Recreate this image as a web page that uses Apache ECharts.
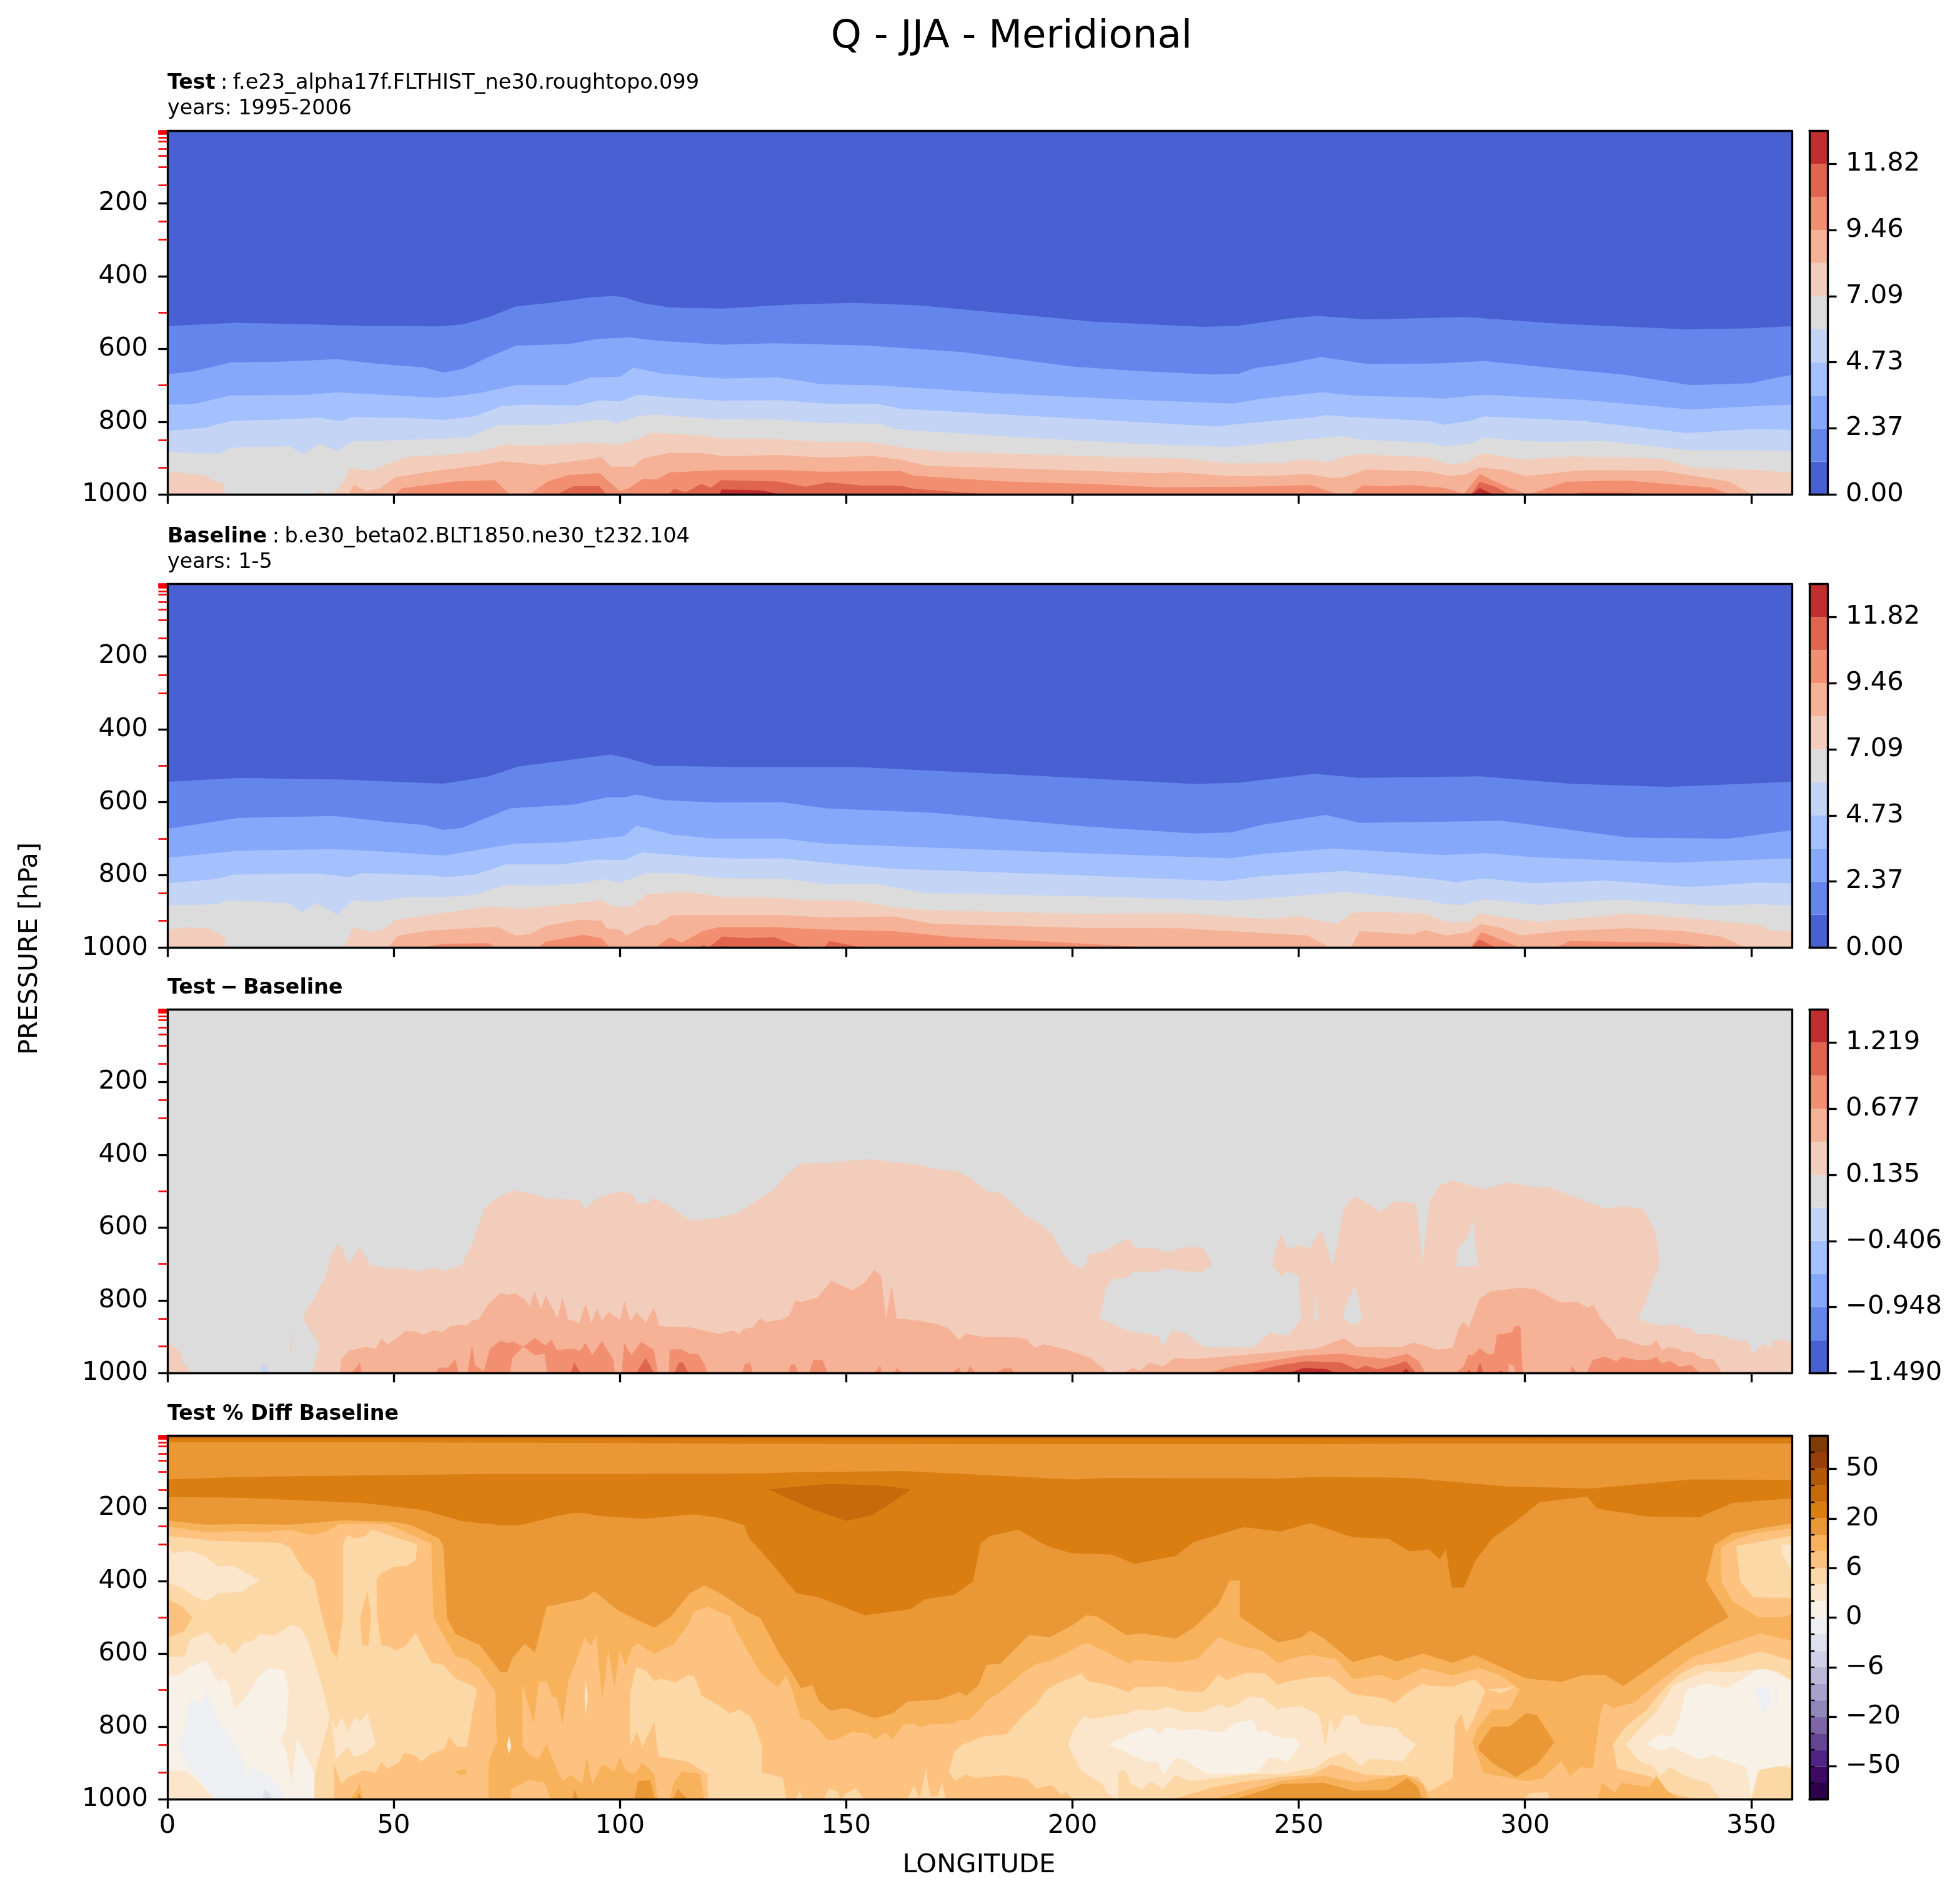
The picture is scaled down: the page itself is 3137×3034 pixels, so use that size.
<!DOCTYPE html>
<html><head><meta charset="utf-8">
<script src="https://cdn.jsdelivr.net/npm/echarts@6/dist/echarts.min.js"></script>
<style>html,body{margin:0;background:#fff}#c{width:3137px;height:3034px}</style></head>
<body><div id="c"></div>
<script>
// ---------- tick labels / levels ----------
const lonTicks=[0,50,100,150,200,250,300,350];
const presTicks=[200,400,600,800,1000];
const modelLevels=[1,2,3,5,7,10,20,30,50,70,100,150,200,250,300,400,500,600,700,850,925,1000];
const qLevels=[0,1.18,2.37,3.55,4.73,5.91,7.09,8.28,9.46,10.64,11.82,13.0];
const diffLevels=[-1.49,-1.219,-0.948,-0.677,-0.406,-0.135,0.135,0.406,0.677,0.948,1.219,1.49];
const pctLabels={2:'−50',5:'−20',8:'−6',11:'0',14:'6',17:'20',20:'50'};
const coolwarm=['#4860D1','#6485EB','#85A8FA','#A5C1FD','#C3D4F4','#DCDCDC','#F2CDBB','#F6B296','#F28F71','#E0654F','#C02E2F'];
const puor=['#2D004B','#3E0B62','#4F2384','#654594','#7C66A8','#9088BA','#A9A1CB','#BDB9DA','#D0D1E6','#DFE0EC','#EEEFF3','#F7F1E7','#FCE6CB','#FDD8A7','#FDC27F','#F7B25B','#EA9736','#DA7E12','#C86A0C','#B35806','#983F09','#7F3B08'];

// ---------- Test: contour boundaries [longitude, pressure] ----------
const t1=[[0,537],[15,528],[30,532],[45,537],[60,538],[65.5,532],[71,512],[77,483],[84,474],[93.6,458],[98.5,454],[101,458],[105,474],[111,486],[122.4,489],[137,478],[151.5,473],[166,480],[185,502],[204.7,525],[229,539],[236.6,536],[248,516],[254,509],[265,519],[287,512],[308,531],[335.7,546],[350,543],[359,537]];
const t2=[[0,669],[5.5,662],[14,637],[25,635],[37.5,628],[46,640],[57,651],[61,665],[65.5,654],[71,622],[77,591],[89,586],[94.6,573],[102,568],[108,577],[122.4,588],[134,584],[154,590],[175.6,608],[200,648],[214,660],[231,670],[236.6,668],[240.5,652],[248,639],[255,622],[265,641],[280,640],[291,633],[303,648],[322,671],[336.6,699],[350,694],[354,683],[359,671]];
const t3=[[0,753],[5.5,752],[14,728],[31,726],[37.5,719],[50,727],[60,735],[69,721],[77,699],[88,699],[93.6,678],[100,676],[103,651],[109,667],[122.4,681],[135,678],[144.7,697],[156,699],[185,723],[214,740],[235.7,750],[241.5,737],[255,719],[263,729],[274.5,732],[282,736],[291,726],[313,740],[336.6,766],[351,757],[359,753]];
const t4=[[0,825],[8.4,816],[14,798],[26,793],[33.6,789],[38.4,798],[41,787],[55,790],[60.7,795],[67.5,786],[74,757],[79,753],[90.7,755],[95.5,741],[100,744],[104,726],[108,730],[122.4,742],[136,741],[144.7,750],[157,751],[162,764],[185,780],[214,800],[231.8,813],[236.6,806],[253,788],[256.4,781],[262,787],[279,798],[282,808],[288,797],[291,785],[313,798],[335.7,831],[350,820],[359,822]];
const t5=[[0,883],[11.3,888],[14,871],[27,867],[30,890],[33.6,860],[37.5,880],[41,854],[55,849],[66.5,843],[73,809],[85,808],[96.5,793],[99.4,804],[104,784],[108,780],[122.4,794],[134,793],[143.7,803],[157,805],[161,820],[185,840],[214,860],[234.7,869],[251,849],[260,839],[263,848],[279,858],[282,868],[288,860],[291,844],[303,855],[317.5,853],[336.6,878],[351,878],[359,881]];
const t6=[[0,937],[8.4,946],[10,962],[12.3,969],[12.8,1000],[32.6,1000],[33.6,987],[35,1000],[36.5,1000],[39,964],[40.4,928],[45,934],[50,910],[53,896],[61.7,890],[69.4,881],[74,863],[82,865],[91.7,858],[98.5,860],[100,863],[105,842],[107,830],[118,838],[122.4,847],[132,846],[144.7,855],[155,855],[163,872],[171,881],[204.7,895],[225,901],[234.7,914],[246,913],[251,902],[256.4,911],[260,895],[264,889],[279,898],[283,917],[287,912],[290.3,886],[299.4,904],[311,895],[330,901],[337.6,927],[350,931],[359,940]];
const t7=[[39.9,1000],[41.3,973],[44,991],[47,982],[50.5,952],[59.7,934],[69.4,919],[74,908],[83,919],[92.6,904],[96,897],[98,923],[103,923],[105,901],[111,885],[118,886],[123.4,895],[135,891],[144.7,898],[156,894],[162,904],[168,921],[185,927],[204.7,935],[219,941],[223,938],[234.7,949],[246,948],[251.6,943],[257.8,955],[260,952],[265,931],[279,937],[283,949],[287,944],[290,925],[295.6,932],[300,949],[312.7,933],[330,934],[345,964],[350,998],[351,1000]];
const t8=[[50,1000],[52,982],[63.6,964],[72.3,960],[75.7,1000],[80,1000],[84,964],[88.8,946],[95.5,941],[100,991],[102,982],[105,957],[108,959],[111,939],[122.4,932],[136,932],[144.7,937],[162,935],[165,948],[185,964],[204.7,971],[219,980],[238.6,978],[252.6,974],[258.3,998],[261.6,998],[264,975],[270,977],[274.5,974],[282,981],[286.5,998],[290,944],[296.5,981],[300.3,998],[302,995],[309,965],[322.3,961],[341.4,981],[345,998],[346,1000]];
const t9a=[[86,1000],[89.7,977],[95.5,977],[97,1000]];
const t9b=[[110.6,1000],[112,984],[114.6,993],[118,970],[120,981],[122.4,960],[135,964],[141,978],[146,966],[154,975],[162,975],[165,984],[180.5,998],[182,1000]];
const t9c=[[288,1000],[290,965],[293.6,979],[296.6,1000]];
const t9d=[[308.5,1000],[312.7,995],[322,995],[332,1000]];
const t10a=[[122,1000],[122.4,986],[131,988],[136,1000]];
const t10b=[[288.3,1000],[290,981],[293,1000]];

// ---------- Baseline ----------
const b1=[[0,544],[15.7,533],[39,538],[61,549],[71,529],[77.6,502],[87,487],[98,469],[102,480],[107.6,500],[126,503],[152,503],[185,523],[227,550],[237,546],[253.5,522],[263.5,533],[290,529],[310,549],[331.6,558],[359,544]];
const b2=[[0,673],[15.7,643],[37,638],[48.6,654],[57,663],[61,676],[65,671],[75.7,617],[90,606],[97,587],[101,587],[103.6,579],[109.6,594],[121,601],[136,600],[145.5,617],[169,629],[202,666],[227,686],[235,683],[242,662],[256,635],[263.5,657],[295,651],[323,697],[345,700],[359,677]];
const b3=[[0,753],[15.7,733],[37,729],[48.6,736],[61,747],[76.7,714],[87,711],[101,693],[103.6,664],[111.5,689],[121,700],[136,700],[145.5,714],[202,740],[235,754],[242,742],[257.6,727],[282,745],[291.7,740],[301.7,751],[333,766],[359,754]];
const b4=[[0,823],[11,811],[14.7,799],[33,796],[40,806],[43,795],[58,801],[61.6,806],[68,799],[74.7,771],[87,771],[95,757],[101,759],[105,738],[116,749],[126,755],[136,754],[145.5,766],[160.5,783],[193.7,797],[233.6,817],[242,803],[260,789],[278.4,809],[285,820],[291,809],[301.7,823],[318,815],[336.5,833],[351.5,821],[359,823]];
const b5=[[0,884],[11,880],[13,870],[21.5,873],[24,878],[26.5,875],[29.7,903],[33,877],[35,891],[37.5,909],[41,869],[46,873],[53.4,861],[61,861],[68,854],[74.7,827],[82.5,830],[92,823],[96,811],[100,822],[105.7,795],[114.4,796],[122,809],[136,810],[145.5,825],[157,825],[167,849],[208.6,860],[235,871],[250,857],[260,846],[278.4,869],[282,880],[286,882],[291,866],[303,882],[320,867],[341.5,885],[351.5,880],[359,884]];
const b6=[[0,950],[5,943],[9,947],[12.6,969],[13,1000],[39,1000],[41,943],[44.7,956],[47.5,950],[50.5,923],[58,909],[71,887],[78.6,893],[96,869],[98.5,887],[103,886],[105.7,853],[114.4,846],[123,861],[131,861],[142,869],[152,871],[160.5,889],[169,897],[202,906],[223.6,905],[243.5,921],[250,913],[258.5,934],[262,903],[266.8,900],[278,907],[282.6,929],[287.5,929],[290,906],[303,929],[323,906],[335,917],[351.5,936],[355,954],[359,954]];
const b7=[[48.6,1000],[51,966],[58,953],[68,945],[72.8,942],[77,967],[80.5,960],[83.5,940],[91,923],[96,926],[97,946],[100,950],[101.4,966],[105.7,939],[108,937],[111.5,911],[121,910],[136,910],[145.5,917],[160.5,914],[169,934],[202,945],[223.6,946],[252,966],[257,1000],[261.5,1000],[263.5,954],[275,963],[278,951],[282.6,966],[287.5,957],[290.4,935],[295,946],[299,966],[308,954],[323,946],[335,954],[343.5,969],[349,1000]];
const b8a=[[55.9,1000],[61,989],[71,987],[72.8,1000],[82,1000],[83.5,983],[92,964],[96,974],[97.8,1000],[107.8,1000],[111,971],[113.6,986],[118.3,954],[122,943],[134,943],[145.5,950],[160.5,954],[174,971],[198.7,986],[218.6,1000]];
const b8b=[[288,1000],[290.4,956],[299,1000]];
const b8c=[[306.6,1000],[310,981],[333,986],[341.5,1000]];
const b9a=[[117.8,1000],[118.5,991],[119.5,1000],[122.6,969],[128,973],[134,971],[138.6,991],[140.5,1000]];
const b9b=[[145,1000],[146.3,981],[153.8,1000]];
const b9c=[[288,1000],[290,977],[293.7,1000]];
const b10=[[122,1000],[123,996],[125,1000]];

// ---------- Test - Baseline ----------
const d1a=[[0,921],[1,921],[2.6,941],[3.6,972],[5.5,1000]];
const d1b=[[32,1000],[33.6,921],[30,851],[31,818],[32.6,792],[35,732],[36,680],[37.5,647],[38.6,654],[40,703],[42.5,652],[45,704],[48.6,711],[53.4,713],[55.6,720],[58.8,709],[61,719],[65,703],[67.5,640],[70,548],[72.3,522],[76.2,498],[81,508],[84,521],[91,524],[92.4,548],[94,528],[96,514],[100,500],[102.6,508],[103.8,531],[106,535],[107.5,518],[110.6,537],[115.4,580],[122,573],[126,559],[133.6,500],[136.8,454],[140,425],[146,421],[155,412],[165.8,427],[169.8,439],[174.4,444],[177.7,465],[181,500],[184.3,505],[189,560],[193,591],[195.5,617],[198,674],[200,700],[202.5,713],[203.8,673],[206.7,666],[212.3,629],[214,656],[218.6,657],[221,668],[224,655],[227,652],[229,657],[231,700],[228.6,723],[225,720],[220.6,711],[218.6,722],[213.3,720],[212,738],[208.7,743],[207.4,766],[206,849],[209.4,866],[211.7,881],[214.6,889],[217,892],[219,898],[220,929],[222,881],[225,891],[229,927],[239.7,930],[243.7,889],[247.6,897],[250.5,852],[250,732],[247.6,720],[246.2,736],[244,700],[246,617],[247.6,660],[250,646],[252.2,660],[255,605],[257.5,706],[260,546],[262.5,514],[265.4,534],[268,557],[271.4,528],[276,534],[277.3,700],[279,525],[281.3,483],[284,471],[291,494],[296.3,475],[302.4,489],[305.7,490],[313.6,528],[318,548],[321.5,541],[326,547],[329,617],[329.8,702],[328,756],[326.6,807],[325,850],[328,863],[330.3,870],[332.7,864],[335.3,875],[336.7,875],[338,892],[342.4,893],[346.4,909],[349,910],[349.6,921],[350.4,949],[352.8,917],[354,928],[355.3,910],[356.5,907],[358.3,913],[359,921]];
const d1c=[[27.2,941],[27.3,852],[27.5,941]];
const dHole1=[[284.8,705],[285.2,656],[287.2,630],[288.5,579],[289.6,702],[287.2,708]];
const dHole2=[[259.9,851],[260.2,822],[261.5,785],[262.4,756],[264.1,851],[262.5,868]];
const dHole3=[[253.3,854],[253.8,774],[254.2,857]];
const dBlue=[[20.8,1000],[21,975],[22,985],[22.6,1000]];
const d2=[[38,1000],[38.4,964],[40,938],[43.8,928],[46,933],[47.3,904],[48.6,921],[51,901],[52.5,884],[55,886],[56.3,895],[58.8,882],[60.7,887],[62.6,870],[65,866],[66,870],[67.5,853],[68.7,853],[71,809],[73.6,780],[75.3,784],[77,781],[79,798],[80,815],[81.1,775],[82.5,823],[83.6,786],[86.2,848],[87.3,792],[88.6,852],[91,862],[92.4,809],[93.7,861],[94.9,821],[96,855],[97.5,832],[100,853],[101,803],[102.3,857],[103.6,832],[105.7,861],[107.5,819],[108.7,869],[110.6,872],[115.4,874],[122,892],[125,882],[126.3,893],[127.2,878],[129.4,874],[131,849],[132.3,859],[135.7,853],[137.5,841],[138.7,800],[140.2,804],[143.7,792],[146.7,746],[151.3,772],[154,752],[156.2,716],[157.7,732],[158.8,849],[160,758],[161.2,849],[165.8,855],[170,865],[172.4,875],[175,909],[176.4,891],[180.3,900],[187.6,901],[190,907],[191.6,930],[193.8,920],[198.8,935],[204,958],[208,1000],[211,1000],[213.3,985],[215,993],[217,971],[220,981],[222.6,958],[226.5,962],[235.7,952],[254,932],[257.5,915],[260,904],[262.8,927],[272.7,928],[275.3,916],[279.3,930],[280.6,935],[284,930],[285.2,881],[286.4,858],[287.6,874],[290,795],[292.5,775],[299,765],[302.4,769],[307,801],[308.2,806],[311.5,804],[314,820],[315.2,812],[316.7,850],[319,879],[320.3,905],[321.5,904],[325.8,924],[327.7,924],[329,908],[330.3,937],[331.6,928],[334,933],[335.3,943],[336.7,940],[339.5,961],[341.7,962],[343.6,1000]];
const d3s=[
 [[40.7,1000],[42.5,971],[43,1000]],
 [[59.2,1000],[60,984],[62,985],[63.6,961],[64.4,1000]],
 [[66.3,1000],[67.3,923],[68,978],[69.9,995],[71.3,932],[73.5,911],[75.7,917],[76.2,912],[78.6,927],[81.2,903],[83.6,924],[84.9,907],[86,937],[89.7,932],[91.2,939],[92.4,916],[93.9,950],[96,912],[98.5,961],[98.9,1000]],
 [[100.4,1000],[100.9,916],[102.5,950],[104.7,914],[107.5,935],[108.4,1000]],
 [[110.8,1000],[111,935],[113.5,934],[115.4,947],[117.3,947],[118.8,978],[119.3,1000]],
 [[127,1000],[127.5,977],[128.7,970],[129.4,1000]],
 [[137.2,1000],[137.7,977],[138.6,975],[139.4,1000]],
 [[141.8,1000],[142.7,964],[144.7,963],[146,1000]],
 [[156.2,1000],[157.5,978],[157.9,1000]],
 [[160.6,1000],[161.2,986],[162.5,1000]],
 [[173.1,1000],[174.8,985],[175.7,1000]],
 [[176.6,1000],[177.4,980],[178.6,1000]],
 [[182.7,1000],[185,986],[186.5,986],[187.2,1000]],
 [[229.8,1000],[235.7,980],[241,971],[251.6,951],[259.5,946],[264.1,954],[269.4,960],[274,947],[276.6,968],[278,1000]],
 [[284.6,1000],[286.5,980],[287.5,948],[288.5,951],[290,931],[291.8,948],[293.1,948],[293.8,894],[297.1,888],[297.8,870],[299,871],[299.5,1000]],
 [[310,1000],[310.4,980],[311.5,1000]],
 [[313.6,1000],[315,964],[317.6,954],[320.3,968],[321.5,955],[325,965],[328,962],[329,955],[330.3,973],[332,966],[334.2,982],[336.7,977],[338.5,998],[339,1000]]
];
const d3pockets=[[[75.7,1000],[76.2,958],[78.6,927],[81.2,950],[83.4,947],[83.9,1000]],[[296.4,1000],[296.4,974],[297.5,980],[298,1000]]];
const d4s=[
 [[89,1000],[89.9,971],[91.4,1000]],
 [[103.6,1000],[105.7,957],[107.6,1000]],
 [[112,1000],[113,971],[113.9,971],[115.2,1000]],
 [[238.4,1000],[245,980],[251.6,967],[259.5,971],[262.8,989],[264.8,979],[267.4,989],[271.4,977],[273.7,967],[276,1000]],
 [[287.2,1000],[287.6,989],[288.3,1000]],
 [[289.2,1000],[290.1,971],[290.8,1000]],
 [[293.5,1000],[294.9,991],[295.1,1000]]
];
const d5s=[[[247.6,1000],[251.3,985],[256.2,989],[258.2,1000]],[[272.7,1000],[273.7,987],[274.7,1000]]];

// ---------- Test % Diff Baseline ----------
const pDaTop=[[0,121],[17,114],[43.4,110],[70,106],[100.5,106],[128.6,105],[140.5,101],[162.7,98],[184,111],[200,121],[207.8,117],[246,118],[255.4,114],[274.5,117],[295.6,140],[314.7,146],[336.6,121],[359,122]];
const pDaBot=[[0,169],[17,172],[43.4,186],[56.5,205],[65.3,236],[75,248],[78.5,245],[87.3,218],[91,212],[96,222],[105,229],[116.4,217],[122.5,228],[127.4,246],[128.6,283],[132.6,338],[139,433],[144.5,447],[154,494],[164.3,477],[167.4,450],[173.8,438],[178,402],[179.7,297],[181.7,276],[188,259],[194.3,303],[199.9,324],[208.6,327],[213.7,353],[222.8,331],[226.8,293],[237.9,252],[246,264],[252.6,241],[262,280],[269.8,284],[274.5,319],[278.8,313],[281.2,341],[282.5,313],[283.8,418],[286.5,418],[288.9,347],[292.7,284],[297.5,241],[303.2,184],[313.7,168],[316,201],[327,223],[338.5,225],[346,185],[359,173]];
const pStripTop=[[0,1],[359,1],[359,22],[280,22],[250,24],[200,24],[128,23],[100,21],[50,19],[0,19]];
const pStripTop2=[[0,1],[359,1],[359,9],[0,8]];
const pStripTop3=[[0,1],[359,1],[359,3],[0,3]];
const pIslandC8=[[132.7,148],[146,133],[157.9,138],[164.3,148],[159.5,190],[155.5,220],[150,235],[142,200]];
const pL1=[[0,234],[8.2,245],[17,244],[27.2,245],[39,233],[50.4,238],[54,247],[60,283],[61,304],[61.8,501],[63.6,545],[69,576],[73.7,651],[75,651],[76.3,610],[79,572],[81.2,596],[83.8,470],[91.7,450],[94.4,428],[99.6,481],[104,508],[107.6,528],[111,501],[115.5,433],[118.6,412],[122.5,436],[128.6,487],[131,501],[135.4,603],[138,651],[140,695],[142.5,686],[144,729],[146.4,756],[150,749],[156.3,777],[160.3,763],[163.5,731],[170.6,726],[175,705],[176.5,715],[179.3,685],[181,630],[184,627],[190.4,548],[195,554],[200,521],[203,494],[205.4,497],[211.8,548],[215.7,544],[222.8,558],[226.8,528],[232.3,463],[234.7,399],[237,399],[237,498],[241,532],[245.4,569],[250.6,555],[252.6,536],[255.4,556],[262,623],[267.9,603],[271.7,621],[277.4,599],[284,625],[288.9,603],[300.3,668],[308,677],[312.7,659],[317.5,657],[321.8,689],[327,643],[333.8,584],[340.4,532],[345,499],[340,398],[341.9,300],[346,268],[359,241]];
const pL2=[[0,250],[8.2,265],[17,263],[20.5,267],[26.6,259],[32,274],[35.4,263],[38,243],[48.6,244],[54,273],[58.3,297],[58.8,501],[61,549],[63.6,607],[66.2,613],[69,641],[70.2,664],[72.4,702],[72.8,841],[71,896],[71,1000],[78.5,1000],[78.5,848],[78.4,681],[81,794],[82,678],[83.8,675],[85.1,719],[86,719],[87.3,794],[88.7,668],[90.4,617],[92.2,555],[93.5,579],[94.8,547],[96.1,729],[97.4,590],[98.8,692],[100,590],[101.2,634],[102.7,583],[104,572],[107.6,600],[112,572],[115,521],[116.4,484],[119.4,470],[124.3,498],[126,542],[128.6,600],[131.4,658],[135,692],[136.7,658],[138,698],[140,779],[142,783],[143.7,804],[145.6,835],[147.5,837],[151.2,815],[154.8,819],[156.3,835],[158.7,815],[160,835],[162.7,794],[165,792],[166.6,803],[168.2,794],[173.8,791],[175.3,780],[177,783],[179,760],[181,729],[184,705],[188.8,654],[192,627],[195,620],[203,569],[207.8,596],[212.5,627],[213.7,617],[222.8,624],[227.6,614],[232.3,554],[236.7,577],[241.8,590],[245.4,626],[248.2,614],[252.6,602],[258.3,615],[262,670],[267.9,657],[271.7,674],[277.4,639],[284,659],[289.8,639],[294.6,659],[298.9,698],[296.5,753],[292.7,753],[289.4,808],[288.4,840],[290.8,927],[300.3,950],[304,942],[308,895],[310,935],[312.3,911],[315,915],[316.6,769],[317.5,733],[319.4,749],[324.2,733],[329.9,674],[336.6,611],[344.3,576],[352,544],[359,564]];
const pFdcCorner=[[359,255],[351,268],[347,284],[343.4,307],[343.4,402],[345.8,454],[351.4,499],[357,499],[359,490]];
const pF7bPatches=[
 [[78.5,1000],[78.5,855],[79.9,875],[82,889],[83.8,848],[86.5,930],[87.3,950],[89.1,933],[91.7,957],[92.6,882],[93.9,957],[96.1,903],[98.8,923],[100,882],[101.2,920],[103.2,930],[104.9,899],[107.6,930],[108.4,1000]],
 [[110.9,1000],[112,950],[113.7,923],[117.7,930],[118.6,1000]],
 [[40.3,1000],[41.6,978],[42.5,957],[43.2,1000]],
 [[63.6,923],[65.8,916],[66.2,930],[64.5,933]],
 [[230.8,1000],[239.5,971],[246,949],[255.4,935],[263,954],[273.6,931],[277.4,958],[278.8,1000]],
 [[316,1000],[317,954],[319.9,982],[321.3,954],[327.5,966],[329,935],[331.3,974],[334,1000]]
];
const pFdcPatches=[
 [[75.7,1000],[76,971],[79.9,947],[83.4,954],[84.7,1000]],
 [[0,450],[3.3,470],[5.5,499],[3.8,538],[0,555]],
 [[42.6,499],[44.2,425],[45,499],[44.4,579],[43,576]]
];
const pEaPatches=[
 [[103.2,1000],[104,950],[106.7,947],[107.7,1000]],
 [[111.8,1000],[112.8,971],[115,1000]],
 [[89.5,1000],[90,974],[90.9,1000]],
 [[41.8,1000],[42.3,981],[42.9,1000]],
 [[235.5,1000],[241.8,977],[246,958],[255.4,954],[262,976],[269.8,974],[274,942],[276.4,966],[277.2,1000]],
 [[289.8,852],[292.7,800],[296.5,800],[300.3,763],[302.7,769],[306.5,844],[302.7,903],[298,938],[293.2,903],[289.8,864]]
];
const pL3a=[[0,276],[10.8,290],[24.9,295],[27,307],[30.2,372],[32.4,396],[34.1,494],[36.3,593],[37.4,613],[38.8,501],[38.8,297],[39.8,273],[41.2,283],[43.8,276],[45,258],[50.4,280],[55.2,299],[54.8,343],[53,358],[50,361],[47.3,378],[46.2,395],[46.3,494],[47.3,579],[48.6,579],[50.4,590],[52.6,579],[54.8,542],[58.3,624],[61,630],[63.6,668],[67.5,688],[68.4,698],[67.5,753],[66.2,855],[64,855],[62.3,828],[61,862],[58.3,875],[56,896],[54.8,879],[52.2,872],[51.3,896],[48.6,916],[47.3,896],[46,926],[43.4,920],[39.8,940],[38.5,957],[36.8,903],[36.8,1000]];
const pL3b=[[102.2,709],[103.6,637],[105.8,647],[107.6,675],[108.9,668],[112.4,678],[115,659],[116.4,661],[118.1,715],[122,743],[124.3,763],[126.5,754],[128.6,770],[129.8,794],[131.4,855],[131.4,926],[136,940],[136.8,1000],[119.4,1000],[119.4,930],[115,896],[108.5,882],[107.6,787],[105,855],[103.7,814],[102.3,855]];
const pL3c=[[172.7,923],[173.9,869],[175.7,850],[180,828],[185.6,820],[188.8,773],[192,739],[194,702],[196.7,681],[202,654],[203.4,675],[207.8,685],[212.5,706],[213.7,692],[220.9,690],[223.6,702],[228.8,705],[232.3,658],[234,672],[238.7,651],[242.6,654],[245.4,685],[247.8,675],[252.6,665],[256.9,662],[261.7,710],[268.8,722],[271.2,736],[274.5,702],[277.4,682],[278.8,688],[284,690],[288.9,670],[291.3,702],[288.4,785],[287,816],[286,765],[284.6,789],[284,942],[278.8,978],[276.4,938],[273.6,935],[265,933],[257.4,903],[252.6,933],[246,938],[239.5,948],[231.5,965],[222,1000],[200,1000],[198.6,979],[197.5,988],[195.5,960],[192,970],[190,943],[184.8,933],[178.5,941],[176.5,930],[174,950]];
const pL3d=[[319.4,848],[322.3,800],[327,753],[329.9,706],[333.8,659],[338,631],[344.3,623],[352,593],[359,619],[359,1000],[337.6,1000],[329.9,974],[328,938],[320.4,915]];
const pFddIslands=[
 [[346.7,304],[359,276],[359,446],[350.5,445],[347.6,402]],
 [[291.7,698],[294.7,695],[298,690],[294.7,708]],
 [[300,1000],[301,982],[305,980],[305.5,1000]],
 [[139,1000],[139.8,971],[140.3,1000]],
 [[145,1000],[146.2,969],[148.1,979],[148.9,1000]],
 [[148.9,1000],[150,983],[152.2,969],[154,1000]],
 [[163.5,1000],[165,960],[166.2,1000]],
 [[166.2,1000],[167.6,917],[168.6,991],[170.2,991],[171.2,953],[172,1000]]
];
const pFceLeft=[[0,610],[3.8,607],[5.1,559],[9,540],[11.3,579],[12.6,569],[14.8,603],[17,566],[18.7,566],[20.5,545],[23.6,550],[27.5,520],[29.3,528],[31,562],[34.1,685],[35.9,773],[32.6,926],[32.4,1000]];
const pFceTop=[[0,404],[0,297],[1.1,324],[5.1,317],[8.6,334],[11.3,361],[14.3,358],[17,375],[20.5,399],[18.3,413],[16.5,430],[11.3,433],[8.6,455],[5.5,440],[2.9,416]];
const pFceIslands=[
 [[36.3,780],[37.2,807],[38.5,773],[39.8,814],[41.4,773],[42.5,787],[44.2,763],[46,848],[43.4,875],[41.2,882],[39.8,855],[37.2,889]],
 [[92.2,719],[92.4,675],[92.9,716],[92.4,770]],
 [[75,853],[75.5,825],[76,855],[75.5,875]],
 [[356.5,300],[359,300],[359,375],[357,327]]
];
const pFdd2=[[21.2,855],[22.4,845],[23.6,855],[22.3,860]];
const pFceCentral=[[199,848],[200.3,807],[202.5,770],[203.8,780],[212.5,763],[214,752],[218,757],[220.9,746],[225,760],[228.4,760],[232.3,739],[234.7,750],[239.5,717],[242.2,722],[245.4,756],[246,749],[250.2,744],[253,757],[254.5,769],[255.9,856],[257,775],[258,815],[260.2,769],[262.6,769],[264,793],[271.7,804],[273,824],[276,848],[273,895],[268.8,891],[266,887],[263.6,907],[260.2,871],[256.4,887],[254,911],[250.7,919],[246,931],[239.5,930],[226,950],[222.8,933],[220,971],[217.3,950],[215.3,974],[213,957],[211.8,920],[210.2,923],[210,1000],[207.8,984],[206.6,957],[202,920],[200.3,882]];
const pFceRight=[[322.3,848],[325.2,808],[329,761],[332.8,686],[340,647],[345.2,651],[351.4,643],[355.7,647],[359,674],[359,915],[355.7,907],[351.9,919],[350,1000],[343.3,1000],[340.4,954],[336.6,942],[331.9,911],[330,935],[328,906],[325.2,895]];
const pF7fLeft=[[0,661],[2.9,658],[4.7,637],[8.6,620],[9.5,637],[11.3,681],[12.4,664],[13.6,688],[14.8,749],[16.5,732],[18.7,692],[20.5,658],[22.7,639],[25.8,647],[26.8,698],[26.2,801],[24.9,841],[26.2,862],[27.5,957],[28.6,831],[32.4,926],[32.4,1000],[10.4,1000],[6.9,950],[4.7,926],[2,920],[0,923]];
const pF7fCentral=[[208,850],[212.5,821],[217.3,801],[219,821],[220.9,800],[224,811],[226.8,806],[233,817],[235.9,790],[239.9,780],[241,814],[242.6,811],[244.6,824],[247.4,835],[249,828],[250.2,850],[247.4,899],[245,885],[243.4,885],[241,923],[237.9,930],[230,930],[226.8,909],[224.8,892],[222.8,885],[220,933],[218.9,896],[216.1,896],[211.8,869]];
const pF7fRight=[[326.9,848],[330,820],[332.3,828],[334.2,777],[335.7,698],[340,682],[344.8,694],[351.4,643],[353.8,643],[357.6,666],[359,674],[359,903],[351.4,919],[350,994],[349,911],[341.4,879],[338.5,891],[332.8,856],[330,867]];
const pEeeLeft=[[2,845],[3.8,804],[5.1,719],[7.3,739],[8.6,698],[11.3,790],[13.9,828],[16.5,882],[17.7,937],[18.7,906],[22.7,940],[25.3,971],[25.8,1000],[10.8,1000],[6.4,937],[3.8,896]];
const pEeeRight=[[351,690],[353.9,690],[354.4,730],[353,770],[351.5,730]];
const pEeeRight2=[[355.2,690],[355.8,690],[356,770],[355.4,730]];
const pDfe=[[21,1000],[21.4,971],[22.7,986],[23,1000]];

// ---------- layers, painted in order ----------
const full=[[0,1],[359,1],[359,1000],[0,1000]];
const below=a=>a.concat([[a[a.length-1][0],1000],[a[0][0],1000]]);
const C=coolwarm, P=puor;
const testLayers=[[C[0],full],[C[1],below(t1)],[C[2],below(t2)],[C[3],below(t3)],[C[4],below(t4)],[C[5],below(t5)],[C[6],below(t6)],[C[7],below(t7)],[C[8],below(t8)],[C[9],t9a],[C[9],t9b],[C[9],t9c],[C[9],t9d],[C[10],t10a],[C[10],t10b]];
const baseLayers=[[C[0],full],[C[1],below(b1)],[C[2],below(b2)],[C[3],below(b3)],[C[4],below(b4)],[C[5],below(b5)],[C[6],below(b6)],[C[7],below(b7)],[C[8],b8a],[C[8],b8b],[C[8],b8c],[C[9],b9a],[C[9],b9b],[C[9],b9c],[C[10],b10]];
const diffLayers=[[C[5],full],[C[4],dBlue],[C[6],below(d1a)],[C[6],below(d1b)],[C[6],d1c],[C[5],dHole1],[C[5],dHole2],[C[5],dHole3],[C[7],d2]]
 .concat(d3s.map(a=>[C[8],a])).concat(d3pockets.map(a=>[C[7],a])).concat(d4s.map(a=>[C[9],a])).concat(d5s.map(a=>[C[10],a]));
const pctLayers=[[P[16],full],[P[17],pStripTop],[P[18],pStripTop2],[P[19],pStripTop3],[P[17],pDaTop.concat(pDaBot.slice().reverse())],[P[18],pIslandC8],[P[15],below(pL1)],[P[14],below(pL2)],[P[14],pFdcCorner]]
 .concat([[P[13],below(pL3a)],[P[14],pFdcPatches[2]],[P[14],pFdcPatches[1]],[P[13],pL3b],[P[13],pL3c],[P[13],pL3d]])
 .concat(pFddIslands.map(a=>[P[13],a]))
 .concat(pF7bPatches.map(a=>[P[15],a]))
 .concat([[P[14],pFdcPatches[0]]])
 .concat(pEaPatches.map(a=>[P[16],a]))
 .concat([[P[12],below(pFceLeft)],[P[12],pFceTop],[P[12],pFceCentral],[P[12],pFceRight]])
 .concat(pFceIslands.map(a=>[P[12],a]))
 .concat([[P[13],pFdd2],[P[11],pF7fLeft],[P[11],pF7fCentral],[P[11],pF7fRight],[P[10],pEeeLeft],[P[10],pEeeRight],[P[10],pEeeRight2],[P[9],pDfe]]);

// ---------- layout ----------
const FONT='DejaVu Sans', TICK=41.7, BLK='#000', SPINE=3.3, TL=14.6;
const panels=[{top:209.5,layers:testLayers},{top:934.7,layers:baseLayers},{top:1615.5,layers:diffLayers},{top:2297.5,layers:pctLayers}];
const H=582, L=268, W=2600, CBL=2896, CBW=29;
const grid=[],xAxis=[],yAxis=[],series=[];
const line={show:true,onZero:false,lineStyle:{color:BLK,width:SPINE}};
const tickSt=c=>({color:c,width:SPINE});
function renderer(getPts,getCol){return (params,api)=>({type:'polygon',z2:params.dataIndex,silent:true,shape:{points:getPts(params.dataIndex).map(p=>api.coord(p))},style:{fill:getCol(params.dataIndex)}});}
panels.forEach((p,i)=>{
  const g=grid.length; grid.push({left:L,top:p.top,width:W,height:H,containLabel:false});
  const x0=xAxis.length,y0=yAxis.length;
  xAxis.push({gridIndex:g,type:'value',min:0,max:359,position:'bottom',z:10,axisLine:line,splitLine:{show:false},
    axisTick:{show:true,length:TL,lineStyle:tickSt(BLK),customValues:lonTicks},
    axisLabel:{show:i===3,customValues:lonTicks,formatter:v=>String(v),fontFamily:FONT,fontSize:TICK,color:BLK,margin:22,hideOverlap:false}});
  xAxis.push({gridIndex:g,type:'value',min:0,max:359,position:'top',z:10,axisLine:line,axisTick:{show:false},axisLabel:{show:false},splitLine:{show:false}});
  yAxis.push({gridIndex:g,type:'value',inverse:true,min:1,max:1000,position:'left',z:10,axisLine:line,splitLine:{show:false},
    axisTick:{show:true,length:TL,lineStyle:tickSt(BLK),customValues:presTicks},
    axisLabel:{show:true,customValues:presTicks,formatter:v=>String(v),fontFamily:FONT,fontSize:TICK,color:BLK,margin:31,padding:[10,0,0,0],hideOverlap:false}});
  yAxis.push({gridIndex:g,type:'value',inverse:true,min:1,max:1000,position:'left',z:9,axisLine:{show:false},splitLine:{show:false},
    axisTick:{show:true,length:TL,lineStyle:{color:'#f00',width:2.6},customValues:modelLevels},axisLabel:{show:false}});
  yAxis.push({gridIndex:g,type:'value',inverse:true,min:1,max:1000,position:'right',z:10,axisLine:line,axisTick:{show:false},axisLabel:{show:false},splitLine:{show:false}});
  series.push({type:'custom',name:'panel'+i,coordinateSystem:'cartesian2d',xAxisIndex:x0,yAxisIndex:y0,clip:true,silent:true,animation:false,
    data:p.layers.map(l=>l[1][0]),encode:{x:0,y:1},
    renderItem:renderer(k=>p.layers[k][1],k=>p.layers[k][0])});
});
// colour bars
function colorbar(top,colors,axisMin,axisMax,yvals,major,minor,fmt){
  const g=grid.length; grid.push({left:CBL,top:top,width:CBW,height:H});
  const x0=xAxis.length,y0=yAxis.length;
  xAxis.push({gridIndex:g,type:'value',min:0,max:1,position:'bottom',z:10,axisLine:line,axisTick:{show:false},axisLabel:{show:false},splitLine:{show:false}});
  xAxis.push({gridIndex:g,type:'value',min:0,max:1,position:'top',z:10,axisLine:line,axisTick:{show:false},axisLabel:{show:false},splitLine:{show:false}});
  yAxis.push({gridIndex:g,type:'value',min:axisMin,max:axisMax,position:'right',z:10,axisLine:line,splitLine:{show:false},
    axisTick:{show:true,length:TL,lineStyle:tickSt(BLK),customValues:major},
    axisLabel:{show:true,customValues:major,formatter:fmt,fontFamily:FONT,fontSize:TICK,color:BLK,margin:29,padding:[16,0,0,0],hideOverlap:false}});
  yAxis.push({gridIndex:g,type:'value',min:axisMin,max:axisMax,position:'left',z:10,axisLine:line,axisTick:{show:false},axisLabel:{show:false},splitLine:{show:false}});
  if(minor){yAxis.push({gridIndex:g,type:'value',min:axisMin,max:axisMax,position:'right',z:9,axisLine:{show:false},splitLine:{show:false},
    axisTick:{show:true,length:8.3,lineStyle:{color:BLK,width:2.4},customValues:minor},axisLabel:{show:false}});}
  const rects=colors.map((c,k)=>[[0,yvals[k]],[1,yvals[k]],[1,yvals[k+1]],[0,yvals[k+1]]]);
  series.push({type:'custom',name:'colorbar'+g,coordinateSystem:'cartesian2d',xAxisIndex:x0,yAxisIndex:y0,clip:true,silent:true,animation:false,
    data:rects.map(r=>r[0]),encode:{x:0,y:1},renderItem:renderer(k=>rects[k],k=>colors[k])});
}
const evens=a=>a.filter((_,k)=>k%2===0&&k<a.length-1);
const neg=s=>s.replace('-','−');
colorbar(panels[0].top,coolwarm,0,13,qLevels,evens(qLevels),null,v=>v.toFixed(2));
colorbar(panels[1].top,coolwarm,0,13,qLevels,evens(qLevels),null,v=>v.toFixed(2));
colorbar(panels[2].top,coolwarm,-1.49,1.49,diffLevels,evens(diffLevels),null,v=>neg(v.toFixed(3)));
const idx=Array.from({length:23},(_,k)=>k);
colorbar(panels[3].top,puor,0,22,idx,Object.keys(pctLabels).map(Number),idx,v=>pctLabels[v]||'');

// ---------- texts ----------
const TS=33.3;
const rich={b:{fontFamily:FONT,fontWeight:'bold',fontSize:TS,color:BLK},n:{fontFamily:FONT,fontSize:33.6,color:BLK}};
const txt=(x,y,text,extra)=>({type:'text',x:x,y:y,silent:true,style:Object.assign({text:text,fontFamily:FONT,fontSize:TS,fill:BLK,verticalAlign:'middle'},extra||{})});
const graphic=[
  txt(1619,60,'Q - JJA - Meridional',{fontSize:62.5,align:'center'}),
  txt(268,133,'{b|Test}{n|\u2005:\u2005f.e23_alpha17f.FLTHIST_ne30.roughtopo.099}',{rich}),
  txt(268,174,'years: 1995-2006'),
  txt(268,859,'{b|Baseline}{n|\u2005:\u2005b.e30_beta02.BLT1850.ne30_t232.104}',{rich}),
  txt(268,900,'years: 1-5'),
  txt(268,1581,'{b|Test\u2005−\u2005Baseline}',{rich}),
  txt(268,2263,'{b|Test % Diff Baseline}',{rich}),
  txt(1567,2985,'LONGITUDE',{fontSize:TICK,align:'center'}),
  Object.assign(txt(48,1518,'PRESSURE [hPa]',{fontSize:TICK,align:'center'}),{rotation:Math.PI/2})
];

const chart=echarts.init(document.getElementById('c'),null,{renderer:'canvas',width:3137,height:3034});
chart.setOption({animation:false,backgroundColor:'#fff',grid,xAxis,yAxis,series,graphic});
</script></body></html>
